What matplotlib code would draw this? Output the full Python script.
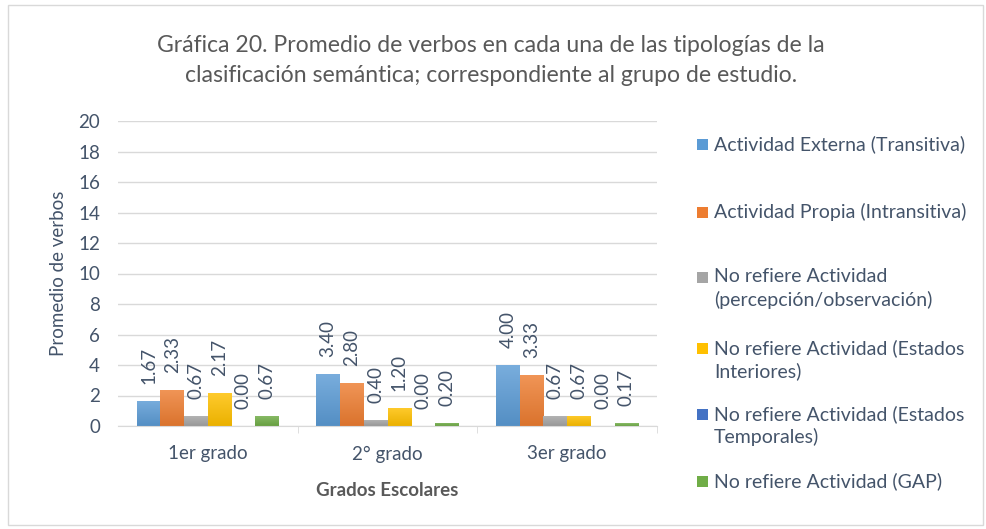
import matplotlib as mpl
import matplotlib.pyplot as plt
from matplotlib.patches import Rectangle
from matplotlib.colors import LinearSegmentedColormap, to_rgb
import numpy as np

grados = ["1er grado", "2° grado", "3er grado"]
series = [
    "Actividad Externa (Transitiva)",
    "Actividad Propia (Intransitiva)",
    "No refiere Actividad\n(percepción/observación)",
    "No refiere Actividad (Estados\nInteriores)",
    "No refiere Actividad (Estados\nTemporales)",
    "No refiere Actividad (GAP)",
]
externa = [1.67, 3.40, 4.00]
propia = [2.33, 2.80, 3.33]
percepcion = [0.67, 0.40, 0.67]
interiores = [2.17, 1.20, 0.67]
temporales = [0.00, 0.00, 0.00]
gap = [0.67, 0.20, 0.17]
valores = [externa, propia, percepcion, interiores, temporales, gap]

colores = ["#5B9BD5", "#ED7D31", "#A5A5A5", "#FFC000", "#4472C4", "#70AD47"]
txt = "#44546A"
W, H = 986, 529

mpl.rcParams.update({
    "font.family": ["Lato", "DejaVu Sans"],
    "text.color": txt,
    "axes.labelcolor": txt,
    "xtick.color": txt,
    "ytick.color": txt,
})


def shade(c, f):
    r, g, b = to_rgb(c)
    if f > 0:
        return (r + (1 - r) * f, g + (1 - g) * f, b + (1 - b) * f)
    return (r * (1 + f), g * (1 + f), b * (1 + f))


fig = plt.figure(figsize=(W / 100, H / 100), dpi=100)
fig.patches.append(Rectangle((8 / W, 4 / H), 975 / W, 520 / H, transform=fig.transFigure,
                             fill=False, edgecolor="#D9D9D9", lw=1.0))
ax = fig.add_axes([118 / W, (H - 426) / H, 539 / W, 305 / H])

x = np.arange(len(grados))
ancho = 0.132
grad = np.linspace(0, 1, 64).reshape(-1, 1)
for i, (vals, col) in enumerate(zip(valores, colores)):
    pos = x + (i - 2.5) * ancho
    bars = ax.bar(pos, vals, width=ancho, color=col, zorder=2)
    cmap = LinearSegmentedColormap.from_list("g", [shade(col, -0.08), shade(col, 0.18)])
    for b, v in zip(bars, vals):
        if v > 0:
            im = ax.imshow(grad, cmap=cmap, aspect="auto", origin="lower",
                           extent=(b.get_x(), b.get_x() + b.get_width(), 0, v), zorder=2.5)
            im.set_clip_path(b)
        ax.annotate(f"{v:.2f}", (b.get_x() + b.get_width() / 2, v), xytext=(0, 17),
                    textcoords="offset pixels", rotation=90, ha="center", va="bottom",
                    fontsize=13.5, color=txt, zorder=3)

ax.set_xlim(-0.5, len(grados) - 0.5)
ax.set_ylim(0, 20)
ax.set_yticks(range(0, 21, 2))
ax.set_xticks(x)
ax.set_xticklabels(grados)
ax.set_xticks([0.5, 1.5, 2.5], minor=True)
ax.tick_params(axis="x", which="major", length=0, pad=14, labelsize=13.5)
ax.tick_params(axis="x", which="minor", length=5, color="#D9D9D9")
ax.tick_params(axis="y", length=0, pad=13, labelsize=13.5)
ax.grid(axis="y", color="#D9D9D9", lw=1.0, zorder=0)
ax.set_axisbelow(True)
for s in ["top", "right", "left"]:
    ax.spines[s].set_visible(False)
ax.spines["bottom"].set_color("#D9D9D9")

ax.set_ylabel("Promedio de verbos", fontsize=13.5, labelpad=8)
ax.set_xlabel("Grados Escolares", fontsize=13.5, fontweight="bold", color="#595959", labelpad=14)

fig.text(491 / W, 1 - 45 / H, "Gráfica 20. Promedio de verbos en cada una de las tipologías de la",
         ha="center", va="center", fontsize=16.6, color="#595959")
fig.text(491 / W, 1 - 75 / H, "clasificación semántica; correspondiente al grupo de estudio.",
         ha="center", va="center", fontsize=16.6, color="#595959")

# leyenda a la derecha, estilo Excel (marcador alineado con la primera línea)
filas = [144, 212, 277, 348, 414, 481]
for nombre, col, yp in zip(series, colores, filas):
    fig.patches.append(Rectangle((697 / W, 1 - (yp + 6) / H), 11 / W, 11 / H,
                                 transform=fig.transFigure, facecolor=col, edgecolor="none"))
    for k, linea in enumerate(nombre.split("\n")):
        fig.text(714 / W, 1 - (yp + 23 * k) / H, linea, ha="left", va="center",
                 fontsize=14, color=txt)

fig.savefig("out.png", dpi=100, facecolor="white")
